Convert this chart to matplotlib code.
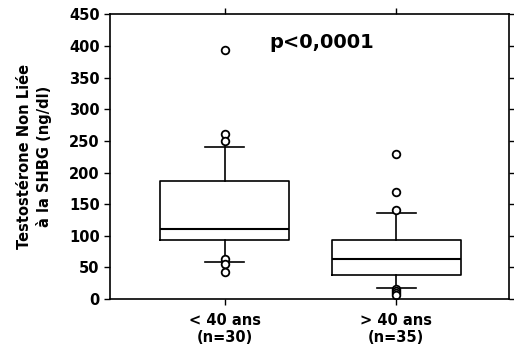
import matplotlib
matplotlib.use('Agg')
import matplotlib.pyplot as plt

plt.rcParams['font.family'] = ['DejaVu Sans']

labels = ['< 40 ans\n(n=30)', '> 40 ans\n(n=35)']
q1 = [93, 38]
medians = [110, 63]
q3 = [186, 93]
whislo = [58, 18]
whishi = [241, 136]
fliers = [[394, 261, 250, 64, 55, 42],
          [230, 169, 141, 16, 13, 10, 7]]

stats = []
for i in range(len(labels)):
    stats.append(dict(med=medians[i], q1=q1[i], q3=q3[i],
                      whislo=whislo[i], whishi=whishi[i],
                      fliers=fliers[i], label=labels[i]))

fig = plt.figure(figsize=(5.14, 3.51), dpi=100)
ax = fig.add_axes([0.214, 0.148, 0.776, 0.811])

ax.bxp(stats, positions=[1, 2], widths=0.754, showfliers=True,
       boxprops=dict(color='black', linewidth=1.2),
       medianprops=dict(color='black', linewidth=1.5),
       whiskerprops=dict(color='black', linewidth=1.2),
       capprops=dict(color='black', linewidth=1.2),
       capwidths=0.23,
       flierprops=dict(marker='o', markersize=5.5, markerfacecolor='white',
                       markeredgecolor='black', markeredgewidth=1.3))

ax.set_xlim(0.332, 2.656)
ax.set_ylim(0, 450)
ax.set_yticks(range(0, 451, 50))
ax.tick_params(axis='both', direction='out', length=4, width=1,
               top=True, right=True, labelsize=10.5)
ax.tick_params(axis='x', pad=6)
for lab in ax.get_xticklabels() + ax.get_yticklabels():
    lab.set_fontweight('bold')
for s in ax.spines.values():
    s.set_linewidth(1.2)

ax.set_ylabel('Testostérone Non Liée\nà la SHBG (ng/dl)', fontsize=10.5,
              fontweight='bold', labelpad=12, linespacing=1.3)
ax.text(0.53, 0.90, 'p<0,0001', transform=ax.transAxes, fontsize=14,
        fontweight='bold', ha='center', va='center')

fig.savefig('out.png', dpi=100)
